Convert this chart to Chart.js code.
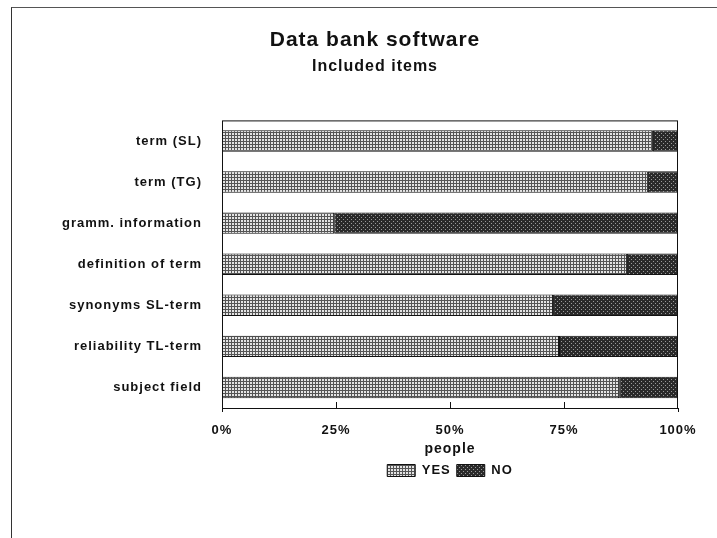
<!DOCTYPE html>
<html lang="en">
<head>
    <meta charset="UTF-8">
    <title>Data bank software</title>
    <script src="https://cdn.jsdelivr.net/npm/chart.js"></script>
    <style>
        body {
            margin: 0;
            background: #fff;
        }
        .page {
            position: relative;
            width: 717px;
            height: 538px;
            overflow: hidden;
        }
        .frame {
            position: absolute;
            left: 11px;
            top: 7px;
            right: -5px;
            bottom: -5px;
            border-left: 1px solid #333;
            border-top: 1px solid #555;
        }
        canvas {
            position: absolute;
            left: 0;
            top: 0;
        }
    </style>
</head>
<body>
<div class="page">
    <div class="frame"></div>
    <canvas id="bankChart" width="717" height="538"></canvas>
</div>

<script>
    const categories = ['term (SL)', 'term (TG)', 'gramm. information', 'definition of term',
                        'synonyms SL-term', 'reliability TL-term', 'subject field'];
    const yesValues = [94.5, 93.4, 24.6, 88.8, 72.6, 73.9, 87.1];
    const noValues = [5.5, 6.6, 75.4, 11.2, 27.4, 26.1, 12.9];
    const xTicks = [0, 25, 50, 75, 100];

    // small bitmap tiles to imitate the printed fill patterns
    function makePattern(rows, light, dark) {
        const c = document.createElement('canvas');
        c.width = rows[0].length;
        c.height = rows.length;
        const g = c.getContext('2d');
        rows.forEach((row, y) => {
            [...row].forEach((ch, x) => {
                g.fillStyle = ch === '#' ? dark : light;
                g.fillRect(x, y, 1, 1);
            });
        });
        return g.createPattern(c, 'repeat');
    }

    const yesFill = makePattern(['###', '#..', '#..'], '#e4e4e4', '#555');
    const noFill = makePattern(['####', '#.##', '####', '###.'], '#9a9a9a', '#2a2a2a');

    const spacing = { // the print has wide spaced type
        id: 'spacing',
        beforeUpdate(c) { c.ctx.letterSpacing = '1px'; },
        beforeDraw(c) { c.ctx.letterSpacing = '1px'; }
    };

    // titles are centred a bit left of the plot, legend sits under the plot
    const placeBoxes = {
        id: 'placeBoxes',
        afterLayout(c) {
            const a = c.chartArea;
            c.boxes.filter(b => b.position === 'top').forEach(b => {
                b.left = a.left - 150;
                b.right = a.right;
            });
            c.legend.left = a.left;
            c.legend.right = a.right;
        }
    };

    const frame = {
        id: 'frame',
        afterDatasetsDraw(c) {
            const { ctx, chartArea: a } = c;
            const x = c.scales.x;
            ctx.save();
            ctx.strokeStyle = '#111';
            ctx.lineWidth = 1;
            ctx.strokeRect(a.left + 0.5, a.top + 0.5, a.right - a.left - 1, a.bottom - a.top);
            ctx.beginPath();
            xTicks.forEach(v => {
                const px = Math.round(x.getPixelForValue(v)) + 0.5;
                if (v === 0 || v === 100) {
                    ctx.moveTo(px, a.bottom);
                    ctx.lineTo(px, a.bottom + 4);
                } else {
                    ctx.moveTo(px, a.bottom - 6);
                    ctx.lineTo(px, a.bottom);
                }
            });
            ctx.stroke();
            ctx.restore();
        }
    };

    Chart.defaults.font.family = "'Liberation Sans', Arial, sans-serif";
    Chart.defaults.font.weight = 'bold';
    Chart.defaults.color = '#111';

    new Chart(document.getElementById('bankChart'), {
        type: 'bar',
        data: {
            labels: categories,
            datasets: [
                {
                    label: 'YES',
                    data: yesValues,
                    backgroundColor: yesFill,
                    borderColor: '#111',
                    borderWidth: 1,
                    borderSkipped: false
                },
                {
                    label: 'NO',
                    data: noValues,
                    backgroundColor: noFill,
                    borderColor: '#111',
                    borderWidth: 1,
                    borderSkipped: false
                }
            ]
        },
        options: {
            indexAxis: 'y',
            responsive: false,
            animation: false,
            categoryPercentage: 1,
            barPercentage: 0.52,
            layout: { padding: { top: 0, left: 12, right: 39, bottom: 51 } },
            plugins: {
                title: {
                    display: true,
                    text: 'Data bank software',
                    font: { size: 21, weight: 'bold' },
                    padding: { top: 28, bottom: 4 }
                },
                subtitle: {
                    display: true,
                    text: 'Included items',
                    color: '#111',
                    font: { size: 16, weight: 'bold' },
                    padding: { top: 0, bottom: 44 }
                },
                legend: {
                    position: 'bottom',
                    labels: {
                        boxWidth: 28,
                        boxHeight: 12,
                        padding: 6,
                        font: { size: 13, weight: 'bold' }
                    }
                },
                tooltip: { enabled: false }
            },
            scales: {
                x: {
                    stacked: true,
                    min: 0,
                    max: 100,
                    grid: { display: false },
                    border: { display: false },
                    ticks: {
                        stepSize: 25,
                        padding: 7,
                        font: { size: 13, weight: 'bold' },
                        callback: v => v + '%'
                    },
                    title: {
                        display: true,
                        text: 'people',
                        font: { size: 14, weight: 'bold' },
                        padding: { top: 1, bottom: 0 }
                    },
                    afterFit(scale) { scale.height = 50; }
                },
                y: {
                    stacked: true,
                    grid: { display: false },
                    border: { display: false },
                    ticks: {
                        padding: 12,
                        font: { size: 13, weight: 'bold' }
                    },
                    afterFit(scale) { scale.width = 210; }
                }
            }
        },
        plugins: [spacing, placeBoxes, frame]
    });
</script>
</body>
</html>
